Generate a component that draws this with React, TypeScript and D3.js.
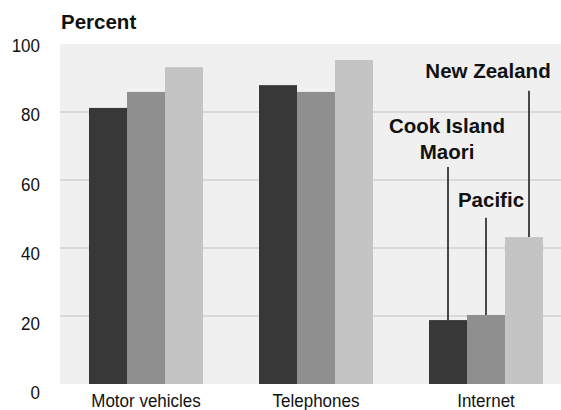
import React from "react";
import * as d3 from "d3";

const categories = ["Motor vehicles", "Telephones", "Internet"];
const seriesNames = ["Cook Island Maori", "Pacific", "New Zealand"];
const cookIslandMaori = [81.2, 87.9, 18.8];
const pacific = [85.9, 85.9, 20.3];
const newZealand = [93.2, 95.3, 43.2];
const yTicks = [0, 20, 40, 60, 80, 100];
const seriesValues = [cookIslandMaori, pacific, newZealand];
const colors = ["#383838", "#8f8f8f", "#c4c4c4"];

// annotation labels for the Internet group
const annotations = [
  { series: 0, lines: ["Cook Island", "Maori"], tx: 447, ty: 133.3, lineTop: 167, dx: 0 },
  { series: 1, lines: ["Pacific"], tx: 491, ty: 206.7, lineTop: 217.7, dx: 0 },
  { series: 2, lines: ["New Zealand"], tx: 488, ty: 78.3, lineTop: 90.7, dx: 5 },
];

export default function App() {
  const W = 561, H = 410;
  const left = 60, top = 44, bottom = 384;
  const y = d3.scaleLinear().domain([0, 100]).range([bottom, top]);
  const yLab = d3.scaleLinear().domain([0, 100]).range([392, 45.3]);
  const x0 = d3.scaleBand().domain(categories).range([61, 571]).paddingInner(56 / 170).paddingOuter(28 / 170);
  const x1 = d3.scaleBand().domain(seriesNames).range([0, x0.bandwidth()]);
  const font = "'Liberation Sans', Arial, sans-serif";
  const lastCat = categories[categories.length - 1];
  const lastIdx = categories.length - 1;

  return (
    <svg width={W} height={H} style={{ position: "absolute", left: 0, top: 0 }} fontFamily={font}>
      <rect x={left} y={top} width={W - left} height={bottom - top} fill="#f0f0f0" />
      {yTicks.filter((t) => t > 0 && t < 100).map((t) => (
        <line key={t} x1={left} x2={W} y1={y(t)} y2={y(t)} stroke="#d2d2d2" strokeWidth={1.5} />
      ))}
      {categories.map((c, ci) =>
        seriesNames.map((s, si) => (
          <rect
            key={c + s}
            x={(x0(c) as number) + (x1(s) as number)}
            y={y(seriesValues[si][ci])}
            width={x1.bandwidth()}
            height={y(0) - y(seriesValues[si][ci])}
            fill={colors[si]}
          />
        ))
      )}
      {yTicks.map((t) => (
        <text key={t} transform={`translate(40,${yLab(t)}) scale(1,1.12)`} dy="0.36em" textAnchor="end" fontSize={17} fill="#111">
          {t}
        </text>
      ))}
      {categories.map((c) => (
        <text key={c} transform={`translate(${(x0(c) as number) + x0.bandwidth() / 2},406.5) scale(1,1.12)`} textAnchor="middle" fontSize={17} fill="#111">
          {c}
        </text>
      ))}
      <text x={61} y={29.3} fontSize={20.5} fontWeight="bold" fill="#111">Percent</text>
      {annotations.map((a) => {
        const s = seriesNames[a.series];
        const cx = (x0(lastCat) as number) + (x1(s) as number) + x1.bandwidth() / 2 + a.dx;
        return (
          <g key={s}>
            <line x1={cx} x2={cx} y1={a.lineTop} y2={y(seriesValues[a.series][lastIdx])} stroke="#111" strokeWidth={1.5} />
            {a.lines.map((l, li) => (
              <text key={l} x={a.tx} y={a.ty + li * 26} textAnchor="middle" fontSize={20.5} fontWeight="bold" fill="#111">
                {l}
              </text>
            ))}
          </g>
        );
      })}
    </svg>
  );
}
